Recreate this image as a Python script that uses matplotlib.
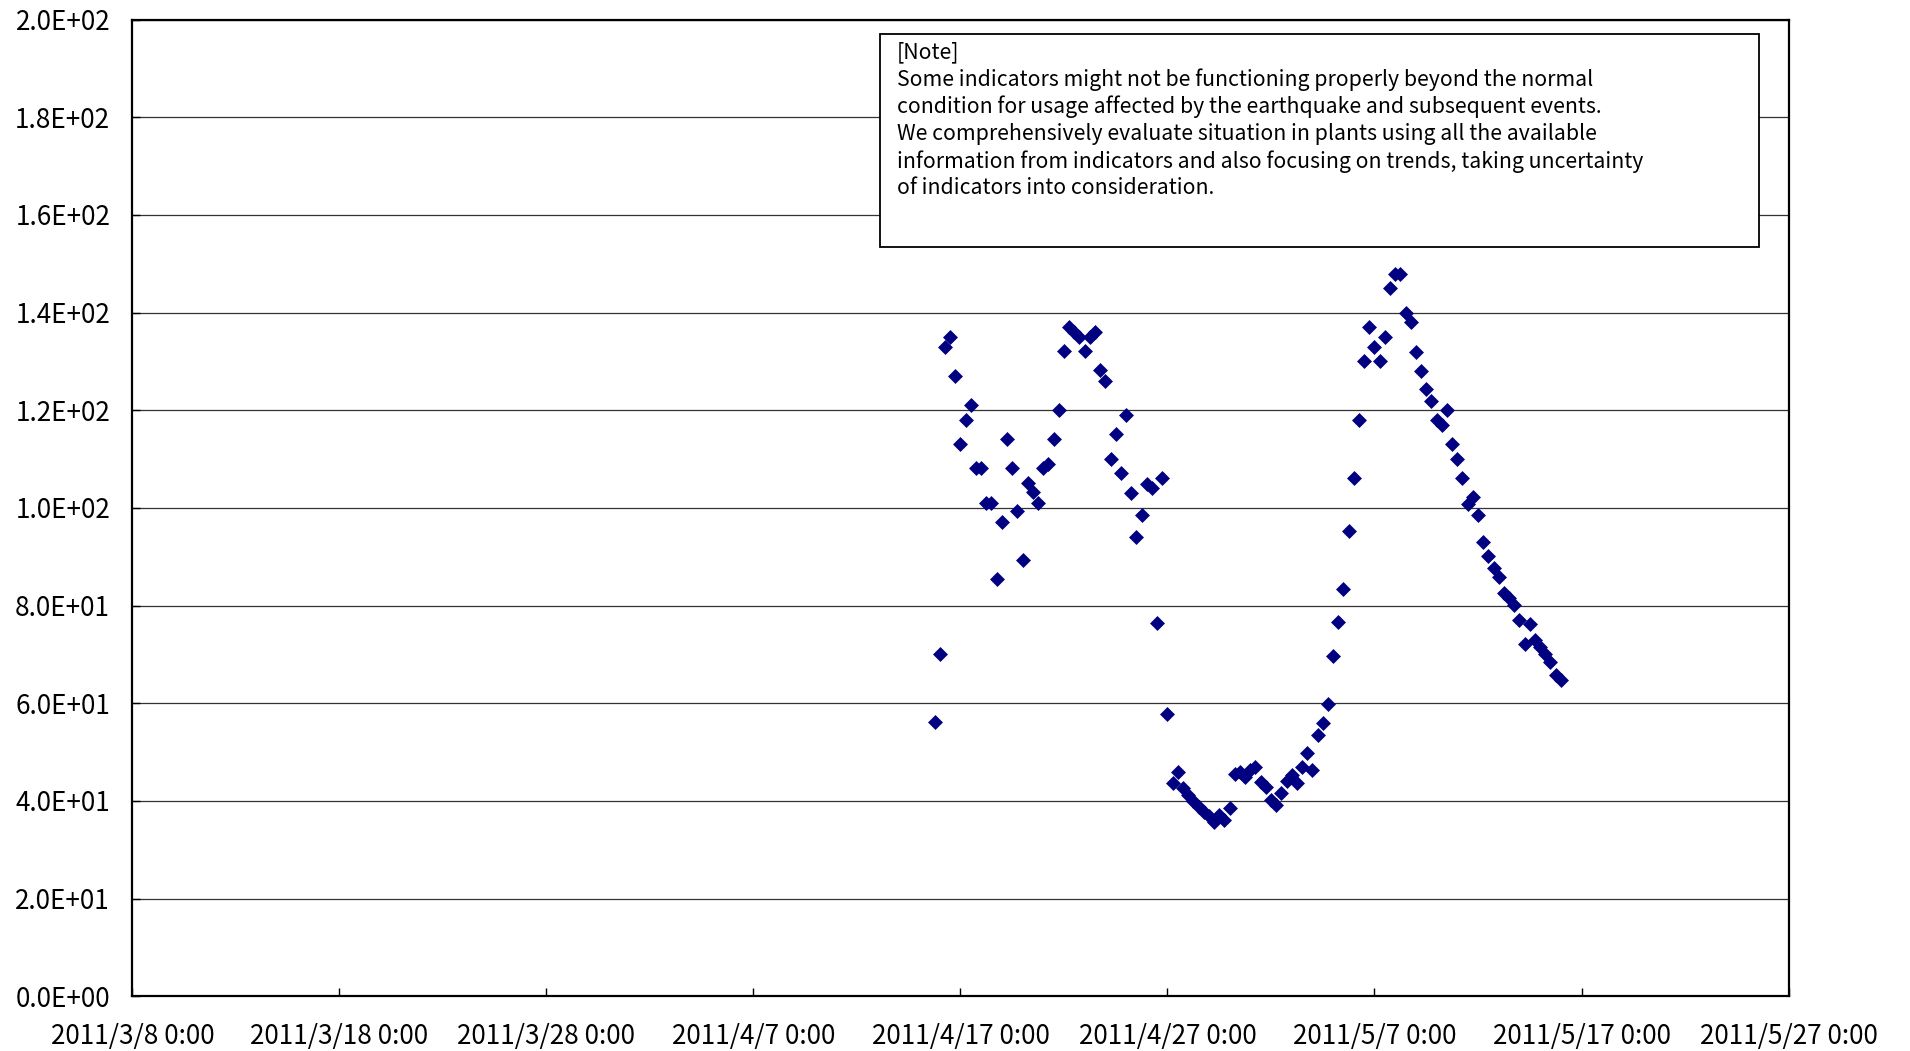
import numpy as np
import pandas as pd
import matplotlib
matplotlib.use("Agg")
import matplotlib.pyplot as plt
import matplotlib.dates as mdates
from matplotlib.patches import Rectangle
from matplotlib.ticker import FuncFormatter, MultipleLocator

plt.rcParams['font.family'] = ['Noto Sans CJK JP', 'DejaVu Sans']

# readings every 6 hours, starting 2011/4/15 18:00
start_time = '2011-04-15 18:00'
values = [
    56.2, 70.0, 133.0, 135.0, 127.1, 113.1, 118.1, 121.1, 108.1, 108.1,
    101.1, 101.1, 85.4, 97.2, 114.1, 108.1, 99.3, 89.3, 105.2, 103.2,
    101.1, 108.1, 109.1, 114.1, 120.0, 132.1, 137.1, 136.1, 135.0, 132.1,
    135.0, 136.1, 128.2, 126.0, 110.1, 115.1, 107.1, 119.1, 103.0, 94.1,
    98.5, 105.0, 104.1, 76.5, 106.1, 57.8, 43.6, 46.0, 42.6, 41.2,
    40.0, 38.8, 37.8, 36.9, 35.8, 37.1, 36.1, 38.6, 45.5, 46.0,
    45.0, 46.4, 46.9, 43.9, 42.9, 40.2, 39.2, 41.6, 44.0, 45.3,
    43.6, 47.0, 49.8, 46.3, 53.5, 55.9, 59.8, 69.7, 76.6, 83.5,
    95.3, 106.1, 118.0, 130.0, 137.0, 133.0, 130.0, 135.0, 145.0, 148.0,
    148.0, 140.0, 138.0, 132.0, 128.0, 124.3, 121.9, 118.1, 117.0, 120.0,
    113.1, 110.0, 106.1, 100.9, 102.3, 98.5, 93.1, 90.2, 87.7, 85.8,
    82.5, 81.5, 80.1, 77.1, 72.2, 76.2, 73.0, 71.6, 70.1, 68.5,
    65.8, 64.8,
]
times = pd.date_range(start_time, periods=len(values), freq='6h')

x_start = pd.Timestamp('2011-03-08 00:00')
x_end = pd.Timestamp('2011-05-27 00:00')
x_ticks = pd.date_range(x_start, x_end, freq='10D')

note_lines = [
    "[Note]",
    "Some indicators might not be functioning properly beyond the normal",
    "condition for usage affected by the earthquake and subsequent events.",
    "We comprehensively evaluate situation in plants using all the available",
    "information from indicators and also focusing on trends, taking uncertainty",
    "of indicators into consideration.",
]

fig = plt.figure(figsize=(19.1, 10.51), dpi=100)
ax = fig.add_axes([0.0693, 0.052, 0.8671, 0.9294])

ax.scatter(times, values, marker='D', s=58, color='#000080', linewidths=0, zorder=3)

ax.set_xlim(x_start, x_end)
ax.set_ylim(0, 200)
ax.yaxis.set_major_locator(MultipleLocator(20))
ax.yaxis.set_major_formatter(FuncFormatter(lambda v, p: f"{v:.1E}"))
ax.set_xticks(x_ticks)
ax.xaxis.set_major_formatter(FuncFormatter(
    lambda v, p: (lambda d: f"{d.year}/{d.month}/{d.day} {d.hour}:{d.minute:02d}")(mdates.num2date(v))))

ax.grid(axis='y', color='#333333', linewidth=0.9)
ax.set_axisbelow(True)
ax.tick_params(axis='both', direction='in', length=6, width=1, labelsize=18.8, colors='black')
ax.tick_params(axis='y', pad=16)
ax.tick_params(axis='x', pad=19)
for sp in ax.spines.values():
    sp.set_linewidth(1.6)
    sp.set_color('black')

# note box
ax.add_patch(Rectangle((0.4512, 0.7668), 0.5310, 0.2183, transform=ax.transAxes,
                       facecolor='white', edgecolor='black', linewidth=1.3, zorder=4))
for i, line in enumerate(note_lines):
    ax.text(0.4614, 0.9668 - i * 0.02795, line, transform=ax.transAxes,
            fontsize=15.3, va='center', ha='left', zorder=5)

fig.savefig('out.png', dpi=100)
